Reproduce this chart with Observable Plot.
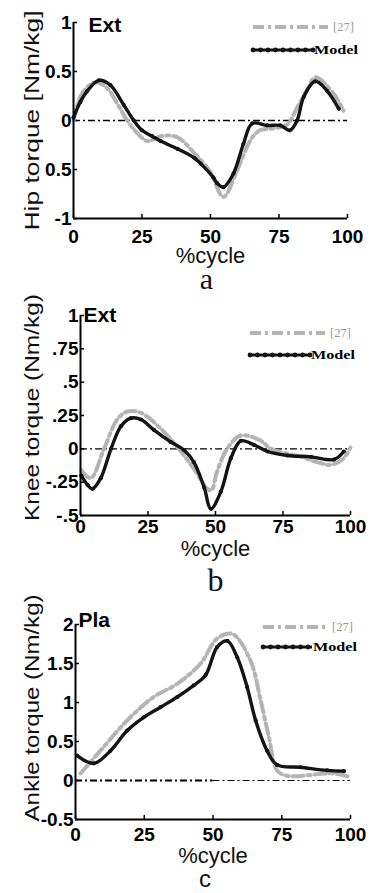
<!DOCTYPE html>
<html>
<head>
<meta charset="utf-8">
<script src="https://cdn.jsdelivr.net/npm/d3@7"></script>
<script src="https://cdn.jsdelivr.net/npm/@observablehq/plot@0.6"></script>
<style>
  html, body { margin: 0; padding: 0; background: #fff; }
  #root { position: relative; width: 371px; height: 893px; background: #fff; overflow: hidden; }
  .panel { position: absolute; left: 0; }
  .panel svg { overflow: visible; }
  .legend { position: absolute; font-family: "Liberation Serif", "Times New Roman", serif; font-size: 12px; }
</style>
</head>
<body>
<div id="root"></div>
<script>
// ---------- data ----------
const xTicks = [0, 25, 50, 75, 100];

// Hip
const hipModelPct = [0, 2.5, 5, 9.3, 13.5, 18.3, 22, 25, 28.7, 31.8, 38, 44, 46.4, 51, 52.4, 54.7, 58.4, 62, 65.2, 70.7, 75.5, 79, 81.6, 84, 88.3, 92.6, 96.8];
const hipModelTorque = [0.03, 0.19, 0.30, 0.41, 0.36, 0.16, 0, -0.1, -0.16, -0.21, -0.29, -0.38, -0.44, -0.58, -0.64, -0.68, -0.54, -0.24, -0.03, -0.05, -0.05, -0.1, 0, 0.24, 0.40, 0.30, 0.12];
const hipRefPct = [0, 3.2, 8, 12.3, 16, 19.6, 23, 27, 31.8, 37.8, 44, 50, 54.7, 59.7, 64.6, 68, 73, 78, 81.6, 85, 88.3, 95, 98.5];
const hipRefTorque = [0, 0.28, 0.39, 0.33, 0.17, 0, -0.12, -0.21, -0.16, -0.17, -0.33, -0.53, -0.78, -0.51, -0.2, -0.1, -0.08, -0.04, 0.13, 0.3, 0.44, 0.27, 0.1];
const hipTickValues = [-1, -0.5, 0, 0.5, 1];
const hipTickLabels = ["-1", "0.5", "0", "0.5", "1"];

// Knee
const kneeModelPct = [0.3, 2.6, 4.4, 7.5, 11.3, 15, 18.7, 22.4, 27.3, 33.5, 38.4, 42, 45.8, 48.3, 52, 55.7, 59.4, 64.2, 69.3, 76.7, 85.4, 93.9, 97.5];
const kneeModelTorque = [-0.20, -0.27, -0.30, -0.22, 0, 0.17, 0.23, 0.22, 0.14, 0.05, -0.01, -0.10, -0.29, -0.45, -0.32, -0.07, 0.06, 0.03, -0.02, -0.05, -0.06, -0.08, -0.02];
const kneeRefPct = [0.3, 3.8, 8.7, 13.6, 17.3, 22.4, 29.8, 36, 42, 47, 48.5, 50.6, 54.3, 59.4, 66.8, 70.5, 81.6, 87.7, 92.7, 97.5, 100];
const kneeRefTorque = [-0.16, -0.22, 0, 0.22, 0.28, 0.27, 0.15, 0.01, -0.15, -0.30, -0.31, -0.17, 0, 0.10, 0.06, 0, -0.06, -0.10, -0.12, -0.07, 0.01];
const kneeTickValues = [-0.5, -0.25, 0, 0.25, 0.5, 0.75, 1];
const kneeTickLabels = ["-.5", "-.25", "0", ".25", ".5", ".75", "1"];

// Ankle
const ankleModelPct = [0.6, 6.7, 12.7, 18.8, 24.8, 30.9, 37, 43, 47.3, 51.5, 55.2, 58.8, 62.4, 65.5, 69.7, 73.3, 81.8, 91.5, 97.6];
const ankleModelTorque = [0.32, 0.22, 0.38, 0.64, 0.81, 0.94, 1.07, 1.22, 1.35, 1.71, 1.79, 1.58, 1.2, 0.77, 0.38, 0.2, 0.17, 0.13, 0.12];
const ankleRefPct = [1.8, 9, 18.8, 28.4, 37, 45.5, 51.5, 57, 63.6, 67.3, 70.3, 73.3, 77, 94, 100];
const ankleRefTorque = [0.09, 0.38, 0.77, 1.07, 1.24, 1.5, 1.82, 1.88, 1.54, 1.03, 0.56, 0.13, 0.06, 0.09, 0.04];
const ankleTickValues = [-0.5, 0, 0.5, 1, 1.5, 2];
const ankleTickLabels = ["-0.5", "0", "0.5", "1", "1.5", "2"];

// zero reference line pieces (start %, end %, weight)
const zeroPiecesFull = [{x1: 0, x2: 100, w: 1.3}];
const zeroPiecesAnkle = [{x1: 0, x2: 50, w: 2.2}, {x1: 50, x2: 100, w: 1.2}];

const seriesNames = ["[27]", "Model"];
const xLabel = "%cycle";

// ---------- drawing ----------
const zip = (xs, ys) => xs.map((x, i) => ({x, y: ys[i]}));
const root = document.getElementById("root");
const SANS = "'Liberation Sans', Arial, sans-serif";

function panel(cfg) {
  const innerW = cfg.width - cfg.ml - cfg.mr;
  const innerH = cfg.height - cfg.mt - cfg.mb;
  const yMin = cfg.yDomain[0];
  const svg = Plot.plot({
    width: cfg.width,
    height: cfg.height,
    marginTop: cfg.mt, marginBottom: cfg.mb, marginLeft: cfg.ml, marginRight: cfg.mr,
    x: {domain: [0, 100]},
    y: {domain: cfg.yDomain},
    style: {fontFamily: SANS, fontSize: "19px", fontWeight: "bold", color: "#000", background: "transparent", overflow: "visible"},
    marks: [
      Plot.axisX(xTicks, {tickSize: 0, tickPadding: cfg.xPad, fontSize: 19, fontWeight: "bold", label: null}),
      Plot.axisY(cfg.yTicks, {tickSize: 0, tickPadding: 2, fontSize: 19, fontWeight: "bold", label: null,
        tickFormat: d => cfg.yLabels[cfg.yTicks.indexOf(d)]}),
      Plot.tickX(xTicks, {x: d => d, stroke: "#000", strokeWidth: 1.5, insetTop: innerH - 4}),
      Plot.tickY(cfg.yTicks, {y: d => d, stroke: "#000", strokeWidth: 1.5, insetRight: innerW - 4}),
      Plot.ruleY(cfg.zero, {y: () => 0, x1: "x1", x2: "x2", strokeWidth: "w", stroke: "#000", strokeDasharray: "7,3,2,3"}),
      Plot.line(cfg.ref, {x: "x", y: "y", stroke: "#b4b4b4", strokeWidth: 4, strokeDasharray: "11,4,3,4", curve: "catmull-rom"}),
      Plot.line(cfg.model, {x: "x", y: "y", stroke: "#141414", strokeWidth: 3.4, curve: "catmull-rom"}),
      Plot.dot(cfg.model, {x: "x", y: "y", r: 2.1, fill: "#141414"}),
      Plot.ruleX([0], {stroke: "#000", strokeWidth: 2}),
      Plot.ruleY([yMin], {stroke: "#000", strokeWidth: 2}),
      Plot.text([cfg.title], {frameAnchor: "top-left", textAnchor: "start", lineAnchor: "middle",
        dx: cfg.titleDx, dy: cfg.titleDy, fontSize: 21, fontWeight: "bold", fill: "#000"}),
      Plot.text([cfg.yLabel], {frameAnchor: "left", rotate: -90, dx: -(cfg.ml - 32), dy: cfg.yLabelDy,
        fontSize: 21, fontWeight: "normal", fill: "#111"}),
      Plot.text([xLabel], {frameAnchor: "bottom", lineAnchor: "bottom", dx: cfg.xLabelDx, dy: cfg.xLabelDy,
        fontSize: 22, fontWeight: "normal", fill: "#111"}),
      Plot.text([cfg.letter], {frameAnchor: "bottom", lineAnchor: "bottom", dx: cfg.letterDx, dy: cfg.letterDy,
        fontSize: cfg.letterSize, fontWeight: "normal", fontFamily: cfg.letterFont, fill: "#111"})
    ]
  });
  d3.select(svg).selectAll("text").filter(function() { return this.textContent === cfg.yLabel; })
    .attr("text-anchor", "start")
    .attr("x", -cfg.yLabelLen / 2)
    .attr("textLength", cfg.yLabelLen)
    .attr("lengthAdjust", "spacingAndGlyphs");
  const wrap = document.createElement("div");
  wrap.className = "panel";
  wrap.style.top = cfg.top + "px";
  wrap.appendChild(svg);
  root.appendChild(wrap);

  // legend
  const lg = document.createElement("div");
  lg.className = "legend";
  lg.style.left = cfg.legX + "px";
  lg.style.top = cfg.legY + "px";
  const lw = cfg.legLineW;
  lg.innerHTML = `
    <svg width="${lw + 110}" height="34" style="display:block;overflow:visible">
      <line x1="0" x2="${lw + 15}" y1="6" y2="6" stroke="#b4b4b4" stroke-width="4" stroke-dasharray="11,4,3,4"/>
      <text x="${lw + 20}" y="6" dy="0.35em" fill="#9a9a9a" font-size="12.5" font-family="Liberation Serif, serif">${seriesNames[0]}</text>
      <line x1="0" x2="${lw}" y1="${cfg.legGap + 6}" y2="${cfg.legGap + 6}" stroke="#141414" stroke-width="3.2"/>
      ${d3.range(0, lw + 1, 7.5).map(x => `<circle cx="${x}" cy="${cfg.legGap + 6}" r="2.4" fill="#141414"/>`).join("")}
      <text x="${lw + 1}" y="${cfg.legGap + 6}" dy="0.35em" fill="#000" font-size="12.5" font-weight="bold" font-family="Liberation Serif, serif" textLength="44" lengthAdjust="spacingAndGlyphs">${seriesNames[1]}</text>
    </svg>`;
  root.appendChild(lg);
}

panel({
  top: 0, width: 371, height: 290, mt: 22, mb: 72, ml: 73, mr: 24,
  yDomain: [-1, 1], yTicks: hipTickValues, yLabels: hipTickLabels, zero: zeroPiecesFull,
  ref: zip(hipRefPct, hipRefTorque), model: zip(hipModelPct, hipModelTorque),
  xPad: 11, title: "Ext", titleDx: 15, titleDy: 3,
  yLabel: "Hip torque [Nm/kg]", yLabelDy: 0, yLabelLen: 220,
  xLabelDx: 0, xLabelDy: 44, letter: "a", letterDx: -4, letterDy: 70, letterSize: 30, letterFont: "'Liberation Serif', serif",
  legX: 253, legY: 21, legLineW: 60, legGap: 23
});

panel({
  top: 290, width: 371, height: 300, mt: 25, mb: 75, ml: 80, mr: 21,
  yDomain: [-0.5, 1], yTicks: kneeTickValues, yLabels: kneeTickLabels, zero: zeroPiecesFull,
  ref: zip(kneeRefPct, kneeRefTorque), model: zip(kneeModelPct, kneeModelTorque),
  xPad: 4, title: "Ext", titleDx: 3, titleDy: 0,
  yLabel: "Knee torque (Nm/kg)", yLabelDy: -8, yLabelLen: 227,
  xLabelDx: 0, xLabelDy: 40, letter: "b", letterDx: 0, letterDy: 75, letterSize: 32, letterFont: "'Liberation Serif', serif",
  legX: 250, legY: 327, legLineW: 60, legGap: 22
});

panel({
  top: 590, width: 371, height: 303, mt: 34, mb: 74, ml: 75, mr: 21,
  yDomain: [-0.5, 2], yTicks: ankleTickValues, yLabels: ankleTickLabels, zero: zeroPiecesAnkle,
  ref: zip(ankleRefPct, ankleRefTorque), model: zip(ankleModelPct, ankleModelTorque),
  xPad: 8, title: "Pla", titleDx: 3, titleDy: -4,
  yLabel: "Ankle torque (Nm/kg)", yLabelDy: -14, yLabelLen: 227,
  xLabelDx: 0, xLabelDy: 43, letter: "c", letterDx: -8, letterDy: 67, letterSize: 24, letterFont: "'Liberation Sans', sans-serif",
  legX: 263, legY: 621, legLineW: 49, legGap: 20
});
</script>
</body>
</html>
